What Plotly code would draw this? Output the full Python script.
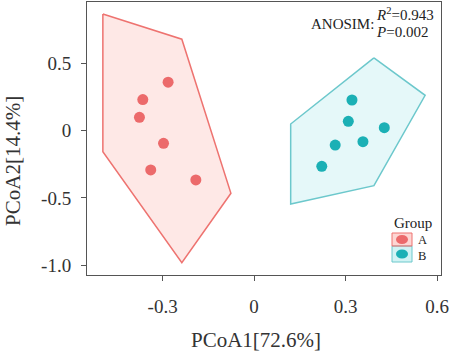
import plotly.graph_objects as go

# Data
a_x = [-0.282, -0.365, -0.376, -0.297, -0.339, -0.191]
a_y = [0.358, 0.229, 0.098, -0.095, -0.293, -0.367]
b_x = [0.321, 0.309, 0.427, 0.357, 0.266, 0.222]
b_y = [0.226, 0.068, 0.021, -0.083, -0.108, -0.266]
a_hull_x = [-0.496, -0.237, -0.076, -0.237, -0.496]
a_hull_y = [0.864, 0.677, -0.466, -0.981, -0.157]
b_hull_x = [0.393, 0.561, 0.393, 0.120, 0.120]
b_hull_y = [0.538, 0.261, -0.409, -0.545, 0.048]
groups = ["A", "B"]
x_ticks = [-0.3, 0, 0.3, 0.6]
x_tick_labels = ["-0.3", "0", "0.3", "0.6"]
y_ticks = [-1.0, -0.5, 0, 0.5]
y_tick_labels = ["-1.0", "-0.5", "0", "0.5"]

red_line = "#EE7370"
red_pt = "#EC6A6B"
red_fill = "rgba(248,118,109,0.17)"
blue_line = "#6CC8CC"
blue_pt = "#1BB0B5"
blue_fill = "rgba(0,191,196,0.10)"
FONT = "Liberation Serif"
TXT = "#333333"

fig = go.Figure()
for hx, hy, lc, fc in [(a_hull_x, a_hull_y, red_line, red_fill),
                       (b_hull_x, b_hull_y, blue_line, blue_fill)]:
    fig.add_trace(go.Scatter(x=hx + hx[:1], y=hy + hy[:1], mode="lines", fill="toself",
                             fillcolor=fc, line=dict(color=lc, width=1.5),
                             showlegend=False, hoverinfo="skip"))
for px, py, c, name in [(a_x, a_y, red_pt, groups[0]), (b_x, b_y, blue_pt, groups[1])]:
    fig.add_trace(go.Scatter(x=px, y=py, mode="markers", name=name,
                             marker=dict(color=c, size=11, symbol="circle"),
                             showlegend=False))

axis_common = dict(showgrid=False, zeroline=False, showline=True, mirror=True,
                   linecolor="#555555", linewidth=1, ticks="outside", ticklen=5,
                   tickcolor="#555555", tickfont=dict(family=FONT, size=19, color=TXT))
fig.update_xaxes(range=[-0.548, 0.613], tickvals=x_ticks, ticktext=x_tick_labels,
                 ticklabelstandoff=9, **axis_common)
fig.update_yaxes(range=[-1.072, 0.953], tickvals=y_ticks, ticktext=y_tick_labels,
                 ticklabelstandoff=6, **axis_common)

fig.add_annotation(xref="paper", yref="paper", x=0.477, y=-0.238, xanchor="center", yanchor="middle",
                   text="PCoA1[72.6%]", showarrow=False, font=dict(family=FONT, size=21, color=TXT))
fig.add_annotation(xref="paper", yref="paper", x=-0.209, y=0.418, xanchor="center", yanchor="middle",
                   text="PCoA2[14.4%]", showarrow=False, textangle=-90,
                   font=dict(family=FONT, size=21, color=TXT))

fig.add_annotation(xref="paper", yref="paper", x=0.815, y=0.92, xanchor="right", yanchor="middle",
                   text="ANOSIM:", showarrow=False, font=dict(family=FONT, size=15, color="#222222"))
fig.add_annotation(xref="paper", yref="paper", x=0.81, y=0.955, xanchor="left", yanchor="middle",
                   text="<i>R</i><sup>2</sup>=0.943", showarrow=False,
                   font=dict(family=FONT, size=15, color="#222222"))
fig.add_annotation(xref="paper", yref="paper", x=0.81, y=0.89, xanchor="left", yanchor="middle",
                   text="<i>P</i>=0.002", showarrow=False,
                   font=dict(family=FONT, size=15, color="#222222"))

# manual legend (paper coordinates)
fig.add_annotation(xref="paper", yref="paper", x=0.8616, y=0.1905, xanchor="left", yanchor="middle",
                   text="Group", showarrow=False, font=dict(family=FONT, size=15, color="#222222"))
legend_rows = [(blue_pt, blue_line, "rgba(0,191,196,0.18)", 0.0476, 0.1062),
               (red_pt, red_line, "rgba(248,118,109,0.30)", 0.1062, 0.1538)]
for pc, lc, fc, y0, y1 in legend_rows:
    fig.add_shape(type="rect", xref="paper", yref="paper", x0=0.8616, x1=0.9181, y0=y0, y1=y1,
                  line=dict(color=lc, width=1), fillcolor=fc, layer="above")
    ym = (y0 + y1) / 2
    fig.add_shape(type="circle", xref="paper", yref="paper", x0=0.8729, x1=0.9068,
                  y0=ym - 0.0165, y1=ym + 0.0165, line=dict(width=0), fillcolor=pc, layer="above")
fig.add_annotation(xref="paper", yref="paper", x=0.930, y=0.1007, xanchor="left", yanchor="middle",
                   text="<br>".join(groups), showarrow=False, align="left",
                   font=dict(family=FONT, size=12.5, color="#222222"))

fig.update_layout(
    width=452, height=354,
    margin=dict(l=87, r=11, t=2, b=79),
    plot_bgcolor="white", paper_bgcolor="white",
    showlegend=False,
)
fig.write_html("out.html")
